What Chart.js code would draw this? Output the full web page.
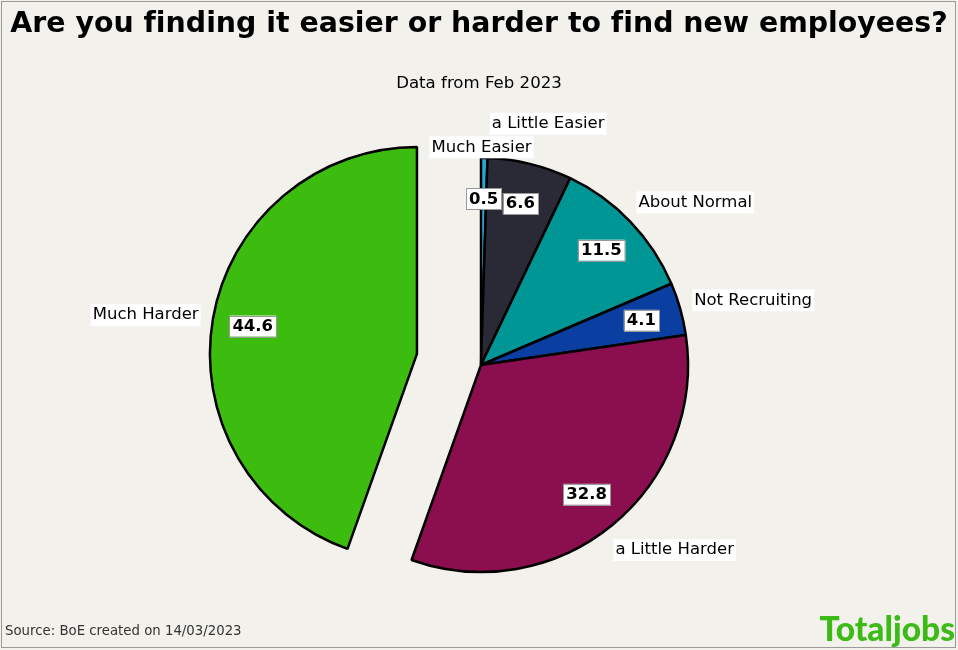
<!DOCTYPE html>
<html>
<head>
<meta charset="utf-8">
<script src="https://cdn.jsdelivr.net/npm/chart.js@4/dist/chart.umd.min.js"></script>
<style>
  html, body { margin: 0; padding: 0; background: #f2f1ec; }
  #wrap { width: 958px; height: 650px; position: relative; }
</style>
</head>
<body>
<div id="wrap"><canvas id="myChart" width="958" height="650"></canvas></div>
<script>
(function(){

	"use strict";

// Chart data
	const categories = ["Much Easier", "a Little Easier", "About Normal", "Not Recruiting", "a Little Harder", "Much Harder"];
	const shares = [0.5, 6.6, 11.5, 4.1, 32.8, 44.6];
	const sliceColours = ["#2aa6d4", "#2a2a36", "#009696", "#0a3ea0", "#8b0e4e", "#3bbc0e"];
	// how far each slice is pulled out, in pixels
	const explode = [0, 0, 0, 0, 0, 65];

// Text
	const titleText = "Are you finding it easier or harder to find new employees?";
	const subtitleText = "Data from Feb 2023";
	const sourceText = "Source: BoE created on 14/03/2023";
	const logoText = "Totaljobs";

// Label tweaks (align, dx, dy) so the outside names do not overlap
	const labelTweaks = [
		["center", -3, 10],
		["left", -43, -20],
		["left", -7, -5],
		["left", -6, -3],
		["left", -10, 9],
		["right", 6, 0]
	];

	const bgPlugin = {
		id: "bg",
		beforeDraw(chart) {
			const ctx = chart.ctx;
			ctx.save();
			ctx.fillStyle = "#f2f1ec";
			ctx.fillRect(0, 0, chart.width, chart.height);
			ctx.restore();
		},
		afterDraw(chart) {
			const ctx = chart.ctx;
			ctx.save();
			ctx.strokeStyle = "#9a9a9a";
			ctx.lineWidth = 1;
			ctx.strokeRect(1.5, 1.5, 954, 646);

			// no fi ligature, like the original
			ctx.textRendering = "optimizeSpeed";
			ctx.fillStyle = "#000";
			ctx.textAlign = "center";
			ctx.textBaseline = "middle";
			ctx.font = "bold 28.4px 'DejaVu Sans'";
			ctx.fillText(titleText, 479, 25);
			ctx.font = "16.6px 'DejaVu Sans'";
			ctx.fillText(subtitleText, 479, 84);

			ctx.textAlign = "left";
			ctx.fillStyle = "#333";
			ctx.font = "13.3px 'DejaVu Sans'";
			ctx.fillText(sourceText, 5, 632);

			ctx.fillStyle = "#3cba16";
			ctx.font = "900 33.5px 'Lato'";
			ctx.textAlign = "right";
			ctx.fillText(logoText, 955, 630);
			ctx.restore();
		}
	};

// Pull slices straight out (Chart.js's own offset also grows the radius)
	const explodePlugin = {
		id: "explode",
		afterUpdate(chart) {
			chart.getDatasetMeta(0).data.forEach(function(arc, i){
				if (!explode[i]) return;
				const mid = (arc.startAngle + arc.endAngle) / 2;
				arc.x += explode[i] * Math.cos(mid);
				arc.y += explode[i] * Math.sin(mid);
			});
		}
	};

	const labelPlugin = {
		id: "pieLabels",
		afterDatasetsDraw(chart) {
			const ctx = chart.ctx;
			const arcs = chart.getDatasetMeta(0).data;
			ctx.save();
			ctx.textBaseline = "middle";
			arcs.forEach(function(arc, i){
				const p = arc.getProps(["x", "y", "startAngle", "endAngle", "outerRadius"], true);
				const mid = (p.startAngle + p.endAngle) / 2;
				const cx = p.x;
				const cy = p.y;

				// value box
				const vx = cx + p.outerRadius * 0.805 * Math.cos(mid);
				const vy = cy + p.outerRadius * 0.805 * Math.sin(mid);
				ctx.font = "bold 16.5px 'DejaVu Sans'";
				const txt = shares[i].toFixed(1);
				const w = ctx.measureText(txt).width;
				ctx.fillStyle = "#fff";
				ctx.fillRect(vx - w / 2 - 3, vy - 10, w + 6, 21);
				ctx.strokeStyle = "#999";
				ctx.lineWidth = 1;
				ctx.strokeRect(Math.round(vx - w / 2 - 3) + 0.5, Math.round(vy - 10) + 0.5, Math.round(w + 6), 21);
				ctx.fillStyle = "#000";
				ctx.textAlign = "center";
				ctx.fillText(txt, vx, vy + 1);

				// category name
				const tw = labelTweaks[i];
				const lx = cx + p.outerRadius * 1.1 * Math.cos(mid) + tw[1];
				const ly = cy + p.outerRadius * 1.1 * Math.sin(mid) + tw[2];
				ctx.font = "16.5px 'DejaVu Sans'";
				const nw = ctx.measureText(categories[i]).width;
				let left = lx;
				if (tw[0] === "right") left = lx - nw;
				if (tw[0] === "center") left = lx - nw / 2;
				ctx.fillStyle = "#fff";
				ctx.fillRect(left - 2, ly - 11, nw + 4, 22);
				ctx.fillStyle = "#000";
				ctx.textAlign = "left";
				ctx.fillText(categories[i], left, ly);
			});
			ctx.restore();
		}
	};

	const data = {
		labels: categories,
		datasets: [{
			data: shares,
			backgroundColor: sliceColours,
			borderColor: "#000",
			borderWidth: 2.5,
			borderAlign: "center"
		}]
	};

	const config = {
		type: "pie",
		data,
		options: {
			responsive: false,
			animation: false,
			radius: 207,
			layout: { padding: { top: 100, bottom: 20, left: 4, right: 0 } },
			plugins: {
				legend: { display: false },
				tooltip: { enabled: false }
			}
		},
		plugins: [bgPlugin, explodePlugin, labelPlugin]
	};

	new Chart(document.getElementById("myChart"), config);

})();
</script>
</body>
</html>
